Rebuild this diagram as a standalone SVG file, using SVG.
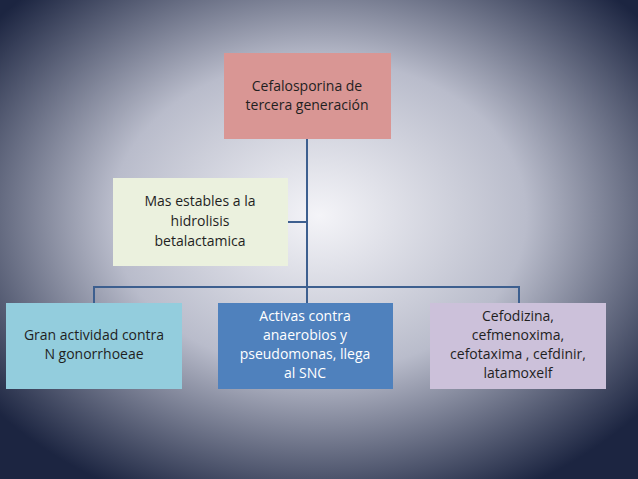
<svg xmlns="http://www.w3.org/2000/svg" width="638" height="479" viewBox="0 0 638 479">
<defs>
<radialGradient id="bg" cx="50%" cy="45%" r="65%">
<stop offset="0" stop-color="#f4f4f8"/>
<stop offset="0.5" stop-color="#b9bccb"/>
<stop offset="1" stop-color="#1c2541"/>
</radialGradient>
</defs>
<style>
.t{font-family:"Open Sans","Liberation Sans",sans-serif;font-size:14px;fill:#1f1f1f}
.w{fill:#ffffff}
.c{stroke:#3d5f8f;stroke-width:2;fill:none}
</style>
<rect width="638" height="479" fill="url(#bg)"/>
<g id="connectors">
<path class="c" d="M307 139V287M94 303V287H519V303M307 287V303M288 222H307"/>
</g>
<g id="n1" text-anchor="middle"><rect x="224" y="53" width="167" height="86" fill="#d99694"/>
<text class="t" x="307" y="91" text-anchor="middle">Cefalosporina de</text><text class="t" x="307" y="110" text-anchor="middle">tercera generación</text></g>
<g id="n2" text-anchor="middle"><rect x="113" y="178" width="175" height="88" fill="#ebf1de"/>
<text class="t" x="200" y="206" text-anchor="middle">Mas estables a la</text><text class="t" x="200" y="226" text-anchor="middle">hidrolisis</text><text class="t" x="200" y="246" text-anchor="middle">betalactamica</text></g>
<g id="n3" text-anchor="middle"><rect x="6" y="303" width="176" height="86" fill="#93cddd"/>
<text class="t" x="94" y="340" text-anchor="middle">Gran actividad contra</text><text class="t" x="94" y="359" text-anchor="middle">N gonorrhoeae</text></g>
<g id="n4" text-anchor="middle"><rect x="218" y="303" width="175" height="86" fill="#4f81bd"/>
<text class="t w" x="305" y="321" text-anchor="middle">Activas contra</text><text class="t w" x="305" y="340" text-anchor="middle">anaerobios y</text><text class="t w" x="305" y="359" text-anchor="middle">pseudomonas, llega</text><text class="t w" x="305" y="378" text-anchor="middle">al SNC</text></g>
<g id="n5" text-anchor="middle"><rect x="430" y="303" width="176" height="86" fill="#ccc1da"/>
<text class="t" x="518" y="321" text-anchor="middle">Cefodizina,</text><text class="t" x="518" y="340" text-anchor="middle">cefmenoxima,</text><text class="t" x="518" y="359" text-anchor="middle">cefotaxima , cefdinir,</text><text class="t" x="518" y="378" text-anchor="middle">latamoxelf</text></g>
</svg>
